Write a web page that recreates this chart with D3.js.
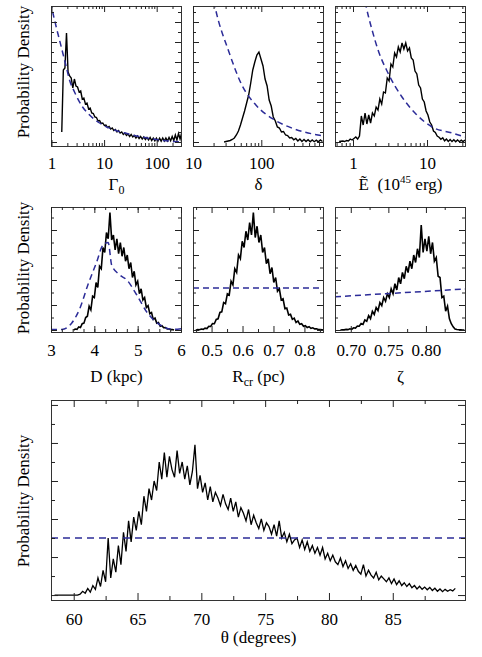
<!DOCTYPE html>
<html>
<head>
<meta charset="utf-8">
<script src="https://cdn.jsdelivr.net/npm/d3@7"></script>
<style>
  body { margin: 0; background: #fff; }
  svg text { font-family: "Liberation Serif", "Times New Roman", Times, Tinos, "DejaVu Serif", "Noto Serif", serif; font-size: 17px; fill: #000; }
</style>
</head>
<body>
<svg id="fig" width="482" height="657"></svg>
<script>
// ---- data (y in arbitrary density units)

// Gamma_0 : log10 bins
const gammaTicks = [1, 10, 100];
const gammaBinStart = 0.18, gammaBinStep = 0.03;
const gammaHist = [1.0, 7.2, 7.4, 10.9, 7.0, 6.6, 6.4, 5.4, 6.3, 5.6, 5.5, 5.0, 5.1, 4.3, 4.4, 3.8, 3.9, 3.3, 3.4, 2.9,
  2.85, 2.5, 2.45, 2.1, 2.15, 1.85, 1.9, 1.65, 1.7, 1.45, 1.55, 1.3, 1.4, 1.15, 1.25, 1.0, 1.15, 0.9, 1.0, 0.75,
  0.9, 0.65, 0.8, 0.55, 0.75, 0.5, 0.65, 0.4, 0.6, 0.35, 0.55, 0.3, 0.5, 0.25, 0.45, 0.2, 0.45, 0.15, 0.4, 0.12,
  0.38, 0.1, 0.38, 0.08, 0.4, 0.1, 0.4, 0.1, 0.45, 0.12, 0.55, 0.15, 0.7, 0.2, 0.85, 0.3, 0.9];
const gammaPriorX = [0.9, 1.0, 1.23, 1.42, 1.62, 1.91, 2.2, 2.74, 3.9, 5.3, 8.2, 15.8, 34.9, 114, 290];
const gammaPriorY = [15.0, 13.6, 11.5, 10.2, 9.0, 7.5, 6.2, 5.0, 3.5, 2.7, 1.9, 1.2, 0.7, 0.2, 0.0];

// delta : log10 bins
const deltaTicks = [10, 100];
const deltaBinStart = 1.44, deltaBinStep = 0.03;
const deltaHist = [0.0, 0.05, 0.1, 0.15, 0.25, 0.4, 0.7, 1.1, 1.7, 2.4, 3.1, 3.9, 4.7, 5.9, 7.2, 8.0, 8.7, 9.0, 8.3, 7.6,
  6.3, 5.6, 4.2, 3.6, 2.5, 2.1, 1.5, 1.4, 1.0, 1.05, 0.7, 0.65, 0.4, 0.45, 0.22, 0.35, 0.1, 0.3, 0.06, 0.25,
  0.04, 0.22, 0.02, 0.2, 0.03, 0.18, 0.02, 0.2, 0.05];
const deltaPriorX = [16, 20.9, 33.6, 51.9, 83.3, 157, 279, 815];
const deltaPriorY = [18, 13.6, 9.0, 5.7, 3.7, 2.2, 1.4, 0.6];

// E tilde (1e45 erg) : log10 bins
const energyTicks = [1, 10];
const energyBinStart = -0.2, energyBinStep = 0.025;
const energyHist = [0.05, 0.08, 0.1, 0.05, 0.15, 0.1, 0.3, 0.2, 0.35, 0.5, 0.3, 0.6,
  2.6, 1.7, 2.9, 1.8, 2.7, 1.9, 2.9, 2.6, 3.5, 3.2, 4.3, 3.8, 5.0, 4.9, 6.4, 6.1, 7.8, 7.5,
  8.9, 8.5, 9.5, 9.0, 9.9, 9.3, 9.9, 9.1, 9.4, 8.4, 8.2, 7.1, 6.8, 5.7, 5.4, 4.3, 4.0, 3.1, 2.7, 2.0,
  1.7, 1.1, 0.95, 0.6, 0.48, 0.28, 0.42, 0.12, 0.3, 0.06, 0.25, 0.04, 0.22, 0.03, 0.2, 0.03, 0.18, 0.05, 0.2];
const energyPriorX = [1.3, 1.5, 1.81, 2.18, 2.97, 4.59, 6.88, 11.7, 21.8, 32.6];
const energyPriorY = [16, 13.6, 11.2, 9.2, 6.9, 4.5, 2.9, 1.5, 0.9, 0.5];

// D (kpc)
const distTicks = [3, 4, 5, 6];
const distBinStart = 3.50, distBinStep = 0.04;
const distHist = [0.0, 0.08, 0.05, 0.25, 0.2, 0.5, 0.55, 1.0, 1.1, 1.9, 1.6, 2.7, 2.6, 3.8, 3.4, 5.1, 4.9, 6.6, 6.2, 7.8,
  7.3, 9.4, 7.2, 7.6, 6.4, 7.3, 6.1, 7.0, 5.9, 6.6, 5.5, 6.0, 4.9, 5.4, 4.2, 4.7, 3.6, 3.9, 2.9, 3.3,
  2.4, 2.6, 1.8, 1.95, 1.3, 1.4, 0.85, 0.95, 0.55, 0.6, 0.3, 0.35, 0.18, 0.2, 0.08, 0.1, 0.03, 0.04, 0.0];
const distPriorX = [3.0, 3.25, 3.48, 3.67, 3.85, 4.05, 4.2, 4.32, 4.4, 4.59, 4.75, 4.98, 5.21, 5.52, 5.82, 6.0];
const distPriorY = [0.05, 0.05, 0.56, 1.76, 3.6, 5.4, 6.8, 7.0, 5.2, 4.4, 4.0, 2.8, 1.44, 0.4, 0.05, 0.1];

// R_cr (pc)
const radiusTicks = [0.5, 0.6, 0.7, 0.8];
const radiusBinStart = 0.446, radiusBinStep = 0.006;
const radiusHist = [0.0, 0.03, 0.02, 0.08, 0.05, 0.15, 0.12, 0.3, 0.28, 0.52, 0.5, 0.85, 0.9, 1.4, 1.45, 2.2, 2.1, 2.9, 2.8, 3.9,
  3.6, 4.9, 4.6, 6.0, 5.7, 7.1, 6.6, 7.9, 7.2, 8.6, 7.6, 9.4, 7.4, 8.3, 7.0, 7.6, 6.2, 6.6, 5.3, 5.7,
  4.5, 5.0, 3.8, 4.2, 3.1, 3.3, 2.4, 2.5, 1.7, 1.75, 1.2, 1.25, 0.85, 0.95, 0.6, 0.72, 0.45, 0.5, 0.3, 0.35,
  0.2, 0.26, 0.14, 0.18, 0.09, 0.1, 0.04, 0.04, 0.02, 0.0];
const radiusPriorX = [0.44, 0.86];
const radiusPriorY = [3.36, 3.36];

// zeta
const zetaTicks = [0.70, 0.75, 0.80];
const zetaBinStart = 0.685, zetaBinStep = 0.0025;
const zetaHist = [0.0, 0.02, 0.01, 0.05, 0.03, 0.1, 0.06, 0.18, 0.15, 0.32, 0.3, 0.52, 0.45, 0.8, 0.7, 1.15, 0.9, 1.5, 1.25, 1.8,
  1.55, 2.2, 1.95, 2.6, 2.3, 2.9, 2.6, 3.3, 2.9, 3.7, 3.2, 4.2, 3.7, 4.6, 4.1, 5.1, 4.6, 5.5, 4.9, 6.0,
  5.4, 6.5, 5.8, 8.4, 6.2, 7.3, 6.3, 7.5, 6.1, 7.0, 5.5, 5.8, 4.3, 4.2, 2.6, 2.7, 1.5, 1.9, 0.9, 0.5,
  0.25, 0.08, 0.04, 0.02, 0.01, 0.0, 0.0];
const zetaPriorX = [0.679, 0.852];
const zetaPriorY = [2.66, 3.28];

// theta (degrees), 0.2 degree bins from 58.4
const thetaTicks = [60, 65, 70, 75, 80, 85];
const thetaBinStart = 58.4, thetaBinStep = 0.2;
const thetaHist = [0, 0, 0, 0, 0, 0, 0, 0, 0, 0,
  0.05, 0.2, 0.1, 0.35, 0.15, 0.5, 0.3, 0.9, 0.45, 1.3,
  0.7, 3.0, 0.9, 1.9, 1.2, 2.6, 1.6, 3.3, 2.3, 3.9,
  2.8, 4.1, 3.4, 4.4, 3.7, 5.2, 4.4, 5.6, 5.0, 6.0,
  5.5, 7.0, 6.1, 7.5, 6.2, 7.3, 6.6, 6.2, 7.6, 6.4,
  7.0, 6.1, 6.8, 5.8, 6.5, 7.9, 5.6, 6.3, 5.4, 5.9,
  5.0, 5.7, 4.9, 5.4, 5.1, 4.7, 5.3, 4.8, 4.5, 5.1,
  4.4, 4.9, 4.1, 4.6, 4.3, 3.9, 4.5, 3.7, 4.2, 3.8,
  3.5, 4.0, 3.4, 3.8, 3.6, 3.2, 3.7, 3.1, 3.9, 3.0,
  3.3, 2.8, 3.2, 2.7, 2.9, 3.0, 2.5, 2.9, 2.4, 2.8,
  2.3, 2.6, 2.2, 2.5, 2.1, 2.5, 1.9, 2.2, 1.8, 2.1,
  1.75, 1.6, 1.95, 1.5, 1.8, 1.4, 1.65, 1.3, 1.55, 1.25,
  1.1, 1.6, 1.0, 1.3, 1.05, 0.9, 1.2, 0.8, 1.0, 0.85,
  0.7, 0.9, 0.6, 0.85, 0.55, 0.75, 0.5, 0.65, 0.45, 0.6,
  0.38, 0.5, 0.32, 0.46, 0.3, 0.42, 0.28, 0.4, 0.24, 0.36,
  0.2, 0.32, 0.18, 0.3, 0.2, 0.28, 0.22, 0.35];
const thetaPriorX = [58.22, 90.66];
const thetaPriorY = [3.0, 3.0];

const BLUE = '#2c2c98';
const svg = d3.select('#fig');

function drawPanel(p) {
  let x = (p.log ? d3.scaleLog() : d3.scaleLinear()).domain(p.xDomain).range([p.left, p.right]);
  let y = d3.scaleLinear().domain(p.yDomain).range([p.bottom, p.top]);
  let g = svg.append('g').attr('class', 'panel-' + p.name);

  let cid = 'clip-' + p.name;
  g.append('clipPath').attr('id', cid).append('rect')
    .attr('x', p.left).attr('y', p.top)
    .attr('width', p.right - p.left + 1).attr('height', p.bottom - p.top + 1);
  let plot = g.append('g').attr('clip-path', 'url(#' + cid + ')');

  // histogram: one point per bin centre, joined up
  let centre = i => p.log ? Math.pow(10, p.binStart + (i + 0.5) * p.binStep) : p.binStart + (i + 0.5) * p.binStep;
  let pts = p.hist.map((v, i) => [centre(i), v]);
  plot.append('path').datum(pts)
    .attr('fill', 'none').attr('stroke', '#000').attr('stroke-width', p.lw)
    .attr('d', d3.line().x(d => x(d[0])).y(d => y(d[1])));

  // prior (dashed)
  let prior = p.priorX.map((v, i) => [v, p.priorY[i]]);
  plot.append('path').datum(prior)
    .attr('fill', 'none').attr('stroke', BLUE).attr('stroke-width', 1.5)
    .attr('stroke-dasharray', p.dash)
    .attr('d', d3.line().x(d => x(d[0])).y(d => y(d[1])).curve(d3.curveMonotoneX));

  // frame
  g.append('rect')
    .attr('x', p.left + 0.5).attr('y', p.top + 0.5)
    .attr('width', p.right - p.left).attr('height', p.bottom - p.top)
    .attr('fill', 'none').attr('stroke', '#333').attr('stroke-width', 1);

  // ticks (inward, on all four sides)
  let minorX = p.log ? x.ticks().filter(v => p.xTicks.indexOf(v) < 0) : p.xMinor;
  let yAll = d3.range(0, Math.floor(p.yDomain[1]) + 1);
  let yMajor = yAll.filter(v => v % 2 === 0), yMinor = yAll.filter(v => v % 2 !== 0);
  let M = p.major, m = p.minor;

  let clean = s => {
    s.select('.domain').remove();
    s.selectAll('line').attr('stroke', '#222');
  };
  let axes = [
    [d3.axisBottom(x).tickValues(p.xTicks).tickSize(-M).tickPadding(p.pad).tickFormat(p.fmt), 0, p.bottom],
    [d3.axisBottom(x).tickValues(minorX).tickSize(-m).tickFormat(''), 0, p.bottom],
    [d3.axisTop(x).tickValues(p.xTicks).tickSize(-M).tickFormat(''), 0, p.top],
    [d3.axisTop(x).tickValues(minorX).tickSize(-m).tickFormat(''), 0, p.top],
    [d3.axisLeft(y).tickValues(yMajor).tickSize(-M).tickFormat(''), p.left, 0],
    [d3.axisLeft(y).tickValues(yMinor).tickSize(-m).tickFormat(''), p.left, 0],
    [d3.axisRight(y).tickValues(yMajor).tickSize(-M).tickFormat(''), p.right, 0],
    [d3.axisRight(y).tickValues(yMinor).tickSize(-m).tickFormat(''), p.right, 0]
  ];
  axes.forEach(a => {
    g.append('g').attr('transform', 'translate(' + a[1] + ',' + a[2] + ')').call(a[0]).call(clean);
  });

  // x title
  let t = g.append('text').attr('x', (p.left + p.right) / 2 + 0.5).attr('y', p.titleY)
    .attr('text-anchor', 'middle');
  p.title(t);
}

function sub(t, main, s, rest) {
  t.append('tspan').text(main);
  t.append('tspan').text(s).style('font-size', '12px').attr('dy', 4);
  if (rest) t.append('tspan').text(rest).style('font-size', '17px').attr('dy', -4);
}

const row1 = { top: 6, bottom: 146, yDomain: [-0.4, 13.6], pad: 11, titleY: 190, major: 6, minor: 3, dash: '6,4', lw: 1.4 };
const row2 = { top: 207, bottom: 332, yDomain: [-0.16, 9.84], pad: 12, titleY: 382, major: 6, minor: 3, dash: '6,4', lw: 1.6 };
const cols = [[51, 181], [193, 323], [335, 465]];

drawPanel(Object.assign({}, row1, {
  name: 'gamma', left: cols[0][0], right: cols[0][1], log: true, xDomain: [0.978, 290],
  xTicks: gammaTicks, fmt: d3.format('d'),
  binStart: gammaBinStart, binStep: gammaBinStep, hist: gammaHist,
  priorX: gammaPriorX, priorY: gammaPriorY,
  title: t => sub(t, 'Γ', '0')
}));
drawPanel(Object.assign({}, row1, {
  name: 'delta', left: cols[1][0], right: cols[1][1], log: true, xDomain: [10, 800],
  xTicks: deltaTicks, fmt: d3.format('d'),
  binStart: deltaBinStart, binStep: deltaBinStep, hist: deltaHist,
  priorX: deltaPriorX, priorY: deltaPriorY,
  title: t => t.text('δ')
}));
drawPanel(Object.assign({}, row1, {
  name: 'energy', left: cols[2][0], right: cols[2][1], log: true, xDomain: [0.571, 32.6],
  xTicks: energyTicks, fmt: d3.format('d'),
  binStart: energyBinStart, binStep: energyBinStep, hist: energyHist,
  priorX: energyPriorX, priorY: energyPriorY,
  title: t => {
    t.append('tspan').text('Ẽ\u00a0 (10');
    t.append('tspan').text('45').style('font-size', '11px').attr('dy', -7);
    t.append('tspan').text(' erg)').style('font-size', '17px').attr('dy', 7);
  }
}));

drawPanel(Object.assign({}, row2, {
  name: 'dist', left: cols[0][0], right: cols[0][1], xDomain: [3, 6],
  xTicks: distTicks, xMinor: d3.range(3.25, 6, 0.25), fmt: d3.format('d'),
  binStart: distBinStart, binStep: distBinStep, hist: distHist,
  priorX: distPriorX, priorY: distPriorY,
  title: t => t.text('D (kpc)')
}));
drawPanel(Object.assign({}, row2, {
  name: 'radius', left: cols[1][0], right: cols[1][1], xDomain: [0.44, 0.86],
  xTicks: radiusTicks, xMinor: [0.45, 0.55, 0.65, 0.75, 0.85], fmt: d3.format('.1f'),
  binStart: radiusBinStart, binStep: radiusBinStep, hist: radiusHist,
  priorX: radiusPriorX, priorY: radiusPriorY,
  title: t => sub(t, 'R', 'cr', ' (pc)')
}));
drawPanel(Object.assign({}, row2, {
  name: 'zeta', left: cols[2][0], right: cols[2][1], xDomain: [0.679, 0.852],
  xTicks: zetaTicks, xMinor: [0.725, 0.775, 0.825], fmt: d3.format('.2f'),
  binStart: zetaBinStart, binStep: zetaBinStep, hist: zetaHist,
  priorX: zetaPriorX, priorY: zetaPriorY,
  title: t => t.text('ζ')
}));

drawPanel({
  name: 'theta', left: 51, right: 465, top: 400, bottom: 600, yDomain: [-0.26, 10.26],
  pad: 13, titleY: 643, major: 7, minor: 4, dash: '7,5', lw: 1.3,
  xDomain: [58.22, 90.66], xTicks: thetaTicks, xMinor: [62.5, 67.5, 72.5, 77.5, 82.5, 87.5], fmt: d3.format('d'),
  binStart: thetaBinStart, binStep: thetaBinStep, hist: thetaHist,
  priorX: thetaPriorX, priorY: thetaPriorY,
  title: t => t.text('θ (degrees)')
});

// y labels
[72, 268, 501].forEach(cy => {
  svg.append('text')
    .attr('transform', 'translate(29,' + cy + ') rotate(-90)')
    .attr('text-anchor', 'middle')
    .text('Probability Density');
});
</script>
</body>
</html>
